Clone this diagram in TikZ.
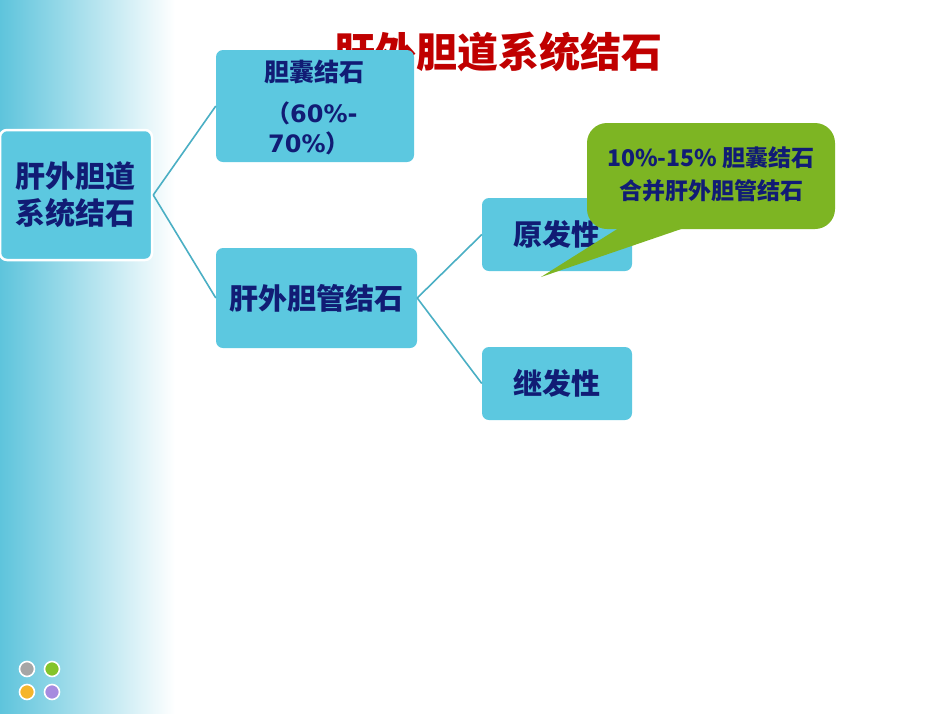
\documentclass[tikz,border=0pt]{standalone}
\usepackage{fontspec}
\setmainfont{Noto Sans CJK SC}
\newfontfamily\latfont{DejaVu Sans}
\definecolor{boxfill}{HTML}{5CC8E0}
\definecolor{navy}{HTML}{111C75}
\definecolor{linkc}{HTML}{4AAFC4}
\definecolor{callg}{HTML}{7DB523}
\definecolor{titred}{HTML}{C00000}
\definecolor{stripc}{HTML}{5EC4DC}
\definecolor{dgray}{HTML}{A6A6A6}
\definecolor{dgreen}{HTML}{84C42A}
\definecolor{dorange}{HTML}{F5B52A}
\definecolor{dpurple}{HTML}{A68BDF}
\tikzset{
  box/.style={draw=none, fill=boxfill, rounded corners=7pt, inner sep=0pt, text=navy, font=\bfseries, align=center},
  link/.style={draw=linkc, line width=1.6pt},
  txt/.style={text=navy, font=\bfseries, inner sep=0pt, align=center},
  dot/.style={circle, draw=white, line width=1.6pt, minimum size=15pt, inner sep=0pt}
}
\begin{document}
\begin{tikzpicture}[x=1pt,y=-1pt]
\useasboundingbox (0,0) rectangle (950,713);
\fill[white] (0,0) rectangle (950,713);
\shade[left color=stripc, right color=white] (0,0) rectangle (175,713);
% title
\node[text=titred, font=\bfseries\fontsize{41}{45}\selectfont, inner sep=0pt] (title) at (498,52) {肝外胆道系统结石};
% boxes
\node[box, draw=white, line width=2.5pt, minimum width=152pt, minimum height=130pt, font=\bfseries\fontsize{30}{37}\selectfont] (root) at (76,195) {肝外胆道\\系统结石};
\node[box, minimum width=198pt, minimum height=112pt] (gb) at (315,106) {};
\node[txt, font=\bfseries\fontsize{25}{28}\selectfont] (gbt1) at (314,72) {胆囊结石};
\node[txt, font=\bfseries\fontsize{24}{28}\selectfont, anchor=west] (gbt2) at (266,113) {（{\latfont\bfseries 60\%-}};
\node[txt, font=\bfseries\fontsize{24}{28}\selectfont, anchor=west] (gbt3) at (268,143) {{\latfont\bfseries 70\%}）};
\node[box, minimum width=201pt, minimum height=100pt, font=\bfseries\fontsize{29}{34}\selectfont] (cbd) at (316.5,298) {肝外胆管结石};
\node[box, minimum width=150pt, minimum height=73pt, font=\bfseries\fontsize{29}{34}\selectfont] (prim) at (557,234.5) {原发性};
\node[box, minimum width=150pt, minimum height=73pt, font=\bfseries\fontsize{29}{34}\selectfont] (sec) at (557,383.5) {继发性};
% connectors
\draw[link] (root.east) -- (gb.west);
\draw[link] (root.east) -- (cbd.west);
\draw[link] (cbd.east) -- (prim.west);
\draw[link] (cbd.east) -- (sec.west);
% callout
\node[fill=callg, rounded corners=20pt, minimum width=248pt, minimum height=106pt, inner sep=0pt] (call) at (711,176) {};
\coordinate (tip) at (541,277);
\coordinate (cb1) at (622,226);
\coordinate (cb2) at (690,226);
\fill[callg] (cb1) -- (tip) -- (cb2) -- cycle;
\node[txt, font=\bfseries\fontsize{23}{33}\selectfont] (callt) at (711,174) {10\%-15\% 胆囊结石\\合并肝外胆管结石};
% dots
\node[dot, fill=dgray] (d1) at (27,669) {};
\node[dot, fill=dgreen] (d2) at (52,669) {};
\node[dot, fill=dorange] (d3) at (27,692) {};
\node[dot, fill=dpurple] (d4) at (52,692) {};
\end{tikzpicture}
\end{document}
